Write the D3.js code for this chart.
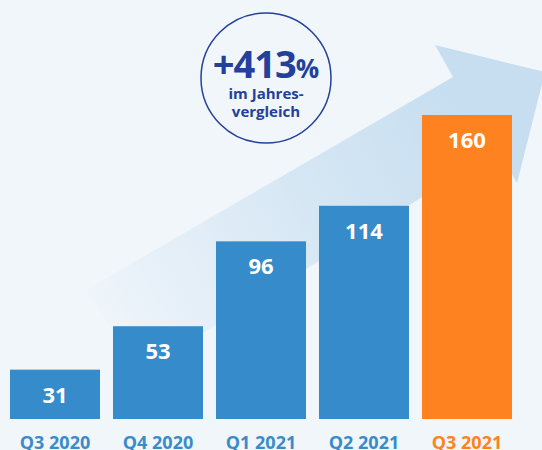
<!DOCTYPE html>
<html>
<head>
<meta charset="utf-8">
<script src="https://cdn.jsdelivr.net/npm/d3@7"></script>
<style>
  html, body { margin: 0; padding: 0; background: #f1f6fb; }
  svg { display: block; font-family: "Open Sans", sans-serif; }
</style>
</head>
<body>
<div id="chart"></div>
<script>
// data
var quarters = ['Q3 2020', 'Q4 2020', 'Q1 2021', 'Q2 2021', 'Q3 2021'];
var values = [31, 53, 96, 114, 160];
var highlight = 'Q3 2021';
var growthLabel = '+413';
var growthLines = ['im Jahres-', 'vergleich'];

var width = 542, height = 450;
var blue = '#368bca', orange = '#ff8220', navy = '#23409a';

var svg = d3.select('#chart')
	.append('svg')
	.attr('width', width)
	.attr('height', height);

svg.append('rect')
	.attr('width', width)
	.attr('height', height)
	.attr('fill', '#f1f6fb');

// arrow in the background
var defs = svg.append('defs');
var grad = defs.append('linearGradient')
	.attr('id', 'arrowGrad')
	.attr('gradientUnits', 'userSpaceOnUse')
	.attr('x1', 80).attr('y1', 330)
	.attr('x2', 470).attr('y2', 110);
grad.append('stop').attr('offset', 0).attr('stop-color', '#c6def0').attr('stop-opacity', 0);
grad.append('stop').attr('offset', 0.55).attr('stop-color', '#c6def0').attr('stop-opacity', 0.6);
grad.append('stop').attr('offset', 1).attr('stop-color', '#c6def0').attr('stop-opacity', 1);

var arrowPts = [
	[86, 290], [453, 77], [435, 45], [545, 72],
	[517, 183], [498, 150], [140, 372]
];
svg.append('path')
	.attr('d', d3.line()(arrowPts) + 'Z')
	.attr('fill', 'url(#arrowGrad)');

// scales
var x = d3.scaleBand()
	.domain(quarters)
	.range([10, 512])
	.paddingInner(0.126);

var y = d3.scaleLinear()
	.domain([6, 160])
	.range([419, 115]);

// bars
svg.selectAll('rect.bar')
	.data(values)
	.enter()
	.append('rect')
	.attr('class', 'bar')
	.attr('x', function (d, i) { return x(quarters[i]); })
	.attr('y', function (d) { return y(d); })
	.attr('width', x.bandwidth())
	.attr('height', function (d) { return y(y.domain()[0]) - y(d); })
	.attr('fill', function (d, i) { return quarters[i] === highlight ? orange : blue; });

// value labels
svg.selectAll('text.val')
	.data(values)
	.enter()
	.append('text')
	.attr('class', 'val')
	.attr('x', function (d, i) { return x(quarters[i]) + x.bandwidth() / 2; })
	.attr('y', function (d) { return y(d) + 25; })
	.attr('dy', '0.36em')
	.attr('text-anchor', 'middle')
	.attr('fill', '#fff')
	.attr('font-size', 22)
	.attr('font-weight', 700)
	.text(function (d) { return d; });

// category labels
svg.selectAll('text.cat')
	.data(quarters)
	.enter()
	.append('text')
	.attr('class', 'cat')
	.attr('x', function (d) { return x(d) + x.bandwidth() / 2; })
	.attr('y', 449)
	.attr('text-anchor', 'middle')
	.attr('fill', function (d) { return d === highlight ? orange : '#3a8cc9'; })
	.attr('font-size', 18)
	.attr('font-weight', 700)
	.text(function (d) { return d; });

// growth badge
var badge = svg.append('g').attr('transform', 'translate(266,78)');
badge.append('circle')
	.attr('r', 65)
	.attr('fill', 'none')
	.attr('stroke', navy)
	.attr('stroke-width', 1.5);

var big = badge.append('text')
	.attr('y', 0)
	.attr('text-anchor', 'middle')
	.attr('fill', navy)
	.attr('font-weight', 700);
big.append('tspan').attr('font-size', 38).attr('letter-spacing', -1).text(growthLabel);
big.append('tspan').attr('font-size', 26).text('%');

badge.selectAll('text.sub')
	.data(growthLines)
	.enter()
	.append('text')
	.attr('class', 'sub')
	.attr('y', function (d, i) { return 21 + i * 18; })
	.attr('text-anchor', 'middle')
	.attr('fill', navy)
	.attr('font-size', 15)
	.attr('font-weight', 700)
	.text(function (d) { return d; });
</script>
</body>
</html>
